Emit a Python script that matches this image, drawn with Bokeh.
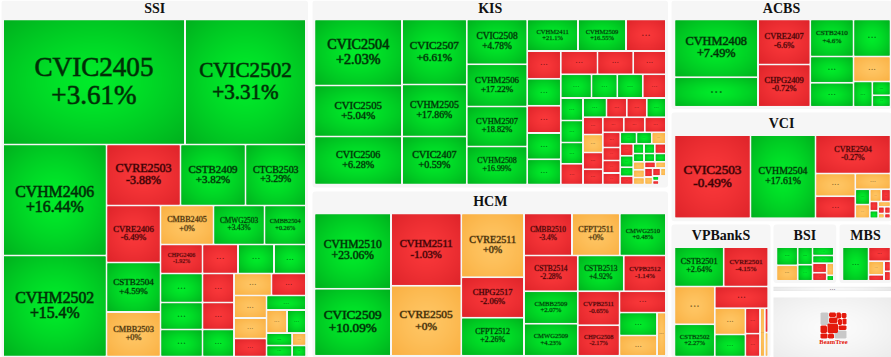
import numpy as np
from bokeh.core.properties import value
from bokeh.embed import file_html
from bokeh.models import ColumnDataSource, Range1d
from bokeh.plotting import figure
from bokeh.resources import INLINE

# ---------- data ----------
GROUPS = ["SSI", "KIS", "HCM", "ACBS", "VCI", "VPBankS", "BSI", "MBS"]

SSI_NAMES = ["CVIC2405", "CVIC2502", "CVHM2406", "CVHM2502", "CVRE2503", "CSTB2409", "CTCB2503",
             "CVRE2406", "CSTB2504", "CMBB2503", "CMBB2405", "CMWG2503", "CMBB2504", "CHPG2406"]
SSI_CHANGES = ["+3.61%", "+3.31%", "+16.44%", "+15.4%", "-3.88%", "+3.82%", "+3.29%",
               "-6.49%", "+4.59%", "+0%", "+0%", "+3.43%", "+0.26%", "-1.92%"]
SSI_TREND = "ggggrggrgooggr" + "rgg" + "ggg" + "rrg" + "or" + "oor" + "g" + "og" + "gg" + "og"
SSI_VALUES = [22750, 15125, 11489, 10454, 4514, 3965, 3690, 3078, 2673, 2403, 2067, 1989, 1618,
              1218, 1030, 1044, 928, 1218, 1134, 1134, 914, 851, 851, 825, 759, 731, 666, 585,
              573, 472, 437, 319, 281, 175, 154]

KIS_NAMES = ["CVIC2504", "CVIC2505", "CVIC2506", "CVIC2507", "CVHM2505", "CVIC2407", "CVIC2508",
             "CVHM2506", "CVHM2507", "CVHM2508", "CVHM2411", "CVHM2509"]
KIS_CHANGES = ["+2.03%", "+5.04%", "+6.28%", "+6.61%", "+17.86%", "+0.59%", "+4.78%",
               "+17.22%", "+18.82%", "+16.99%", "+21.1%", "+16.55%"]
KIS_TREND = "gggggggggggg" + "r" + "rgrgg" + "rrr" + "gggr" + "gggr" + "grrg" + "rorr" + "rrr" + \
            "rrrr" + "ggo" + "rggr" + "ggr" + "ggg" + "ooo" + "ro" + "ro" + "ro" + "gr"
KIS_VALUES = [5775, 4463, 4200, 4212, 3370, 3110, 2706, 2549, 2416, 2295, 1600, 1512, 1260,
              934, 907, 914, 884, 847, 855, 832, 764, 728, 611, 604, 550, 500, 488, 473, 460,
              451, 390, 384, 369, 343, 356, 333, 301, 317, 317, 320, 264, 226, 218, 200,
              187, 175, 164, 156, 148, 118, 107, 105, 105, 109, 90, 90, 93, 90, 87, 79,
              68, 65, 72, 60, 64, 44, 29, 26]

HCM_NAMES = ["CVHM2510", "CVIC2509", "CVHM2511", "CVRE2505", "CVRE2511", "CHPG2517", "CFPT2512",
             "CMBB2510", "CFPT2511", "CMWG2510", "CSTB2514", "CSTB2513", "CVPB2512", "CMBB2509",
             "CMWG2509", "CVPB2511", "CHPG2508"]
HCM_CHANGES = ["+23.06%", "+10.09%", "-1.03%", "+0%", "+0%", "-2.06%", "+2.26%", "-3.4%", "+0%",
               "+0.48%", "-2.28%", "+4.92%", "-1.14%", "+2.07%", "+4.23%", "-0.65%", "-2.17%"]
HCM_TREND = "ggro" + "org" + "rog" + "rgr" + "gg" + "rr" + "r" + "go" + "o"
HCM_VALUES = [5760, 5126, 5083, 4921, 3994, 2539, 2389, 2016, 2008, 1940, 1921, 1642, 1507,
              1749, 1727, 1418, 1276, 995, 859, 761, 389]

ACBS_NAMES = ["CVHM2408", "...", "CVRE2407", "CHPG2409", "CSTB2410"]
ACBS_CHANGES = ["+7.49%", "", "-6.6%", "-0.72%", "+4.6%"]
ACBS_TREND = "gg" + "rr" + "gg" + "gg" + "o" + "g" + "gg"
ACBS_VALUES = [4818, 2472, 2354, 2212, 1598, 1369, 1136, 1037, 925, 476, 251, 209]

VCI_NAMES = ["CVIC2503", "CVHM2504", "CVRE2504"]
VCI_CHANGES = ["-0.49%", "+17.61%", "-0.27%"]
VCI_TREND = "r" + "g" + "r" + "or" + "o" + "go" + "or" + "rg" + "o" + "ro" + "rr"
VCI_VALUES = [6323, 5408, 2888, 903, 876, 553, 223, 197, 141, 113, 77, 63, 65, 42, 30, 40, 28]

VPB_NAMES = ["CSTB2501", "CVRE2501", "...", "CSTB2502"]
VPB_CHANGES = ["+2.64%", "-4.15%", "", "+2.27%"]
VPB_TREND = "gr" + "og" + "r" + "og" + "rr" + "o" + "ro"
VPB_VALUES = [1943, 1758, 1523, 1298, 1159, 805, 673, 372, 335, 232, 82, 81]

BSI_TREND = "go" + "gg" + "g" + "g" + "rr" + "og"
BSI_VALUES = [388, 329, 262, 238, 181, 164, 135, 115, 88, 40]

MBS_TREND = "g" + "r" + "or" + "rr"
MBS_VALUES = [879, 312, 211, 93, 66, 62]

# ---------- layout of each tree map (not data) ----------
STRIPS = {
    "SSI": ["h2", "v2", "h3", "v3", "h3", "h4", "v3", "v3", "h2", "v3", "h1", "h2", "v2", "v2"],
    "KIS": ["v3", "v3", "v4", "h3", "v5", "h3", "h4", "v4", "h4", "v4", "h3", "v4", "h3", "v4",
            "h3", "h3", "v3", "h2", "v2", "h2", "v2"],
    "HCM": ["v2", "v2", "v3", "h3", "h3", "v2", "v2", "h1", "v2", "v1"],
    "ACBS": ["v2", "v2", "h2", "v2", "h1", "v1", "v2"],
    "VCI": ["v1", "v1", "h1", "v2", "h1", "v2", "h2", "v2", "h1", "v2", "v2"],
    "VPBankS": ["h2", "v2", "h1", "v2", "v2", "v1", "v2"],
    "BSI": ["v2", "v2", "h1", "h1", "v2", "v2"],
    "MBS": ["v1", "h1", "v2", "v2"],
}
AREAS = {"SSI": (2.5, 19, 305.5, 356), "KIS": (314, 19, 665.5, 184), "HCM": (314, 213, 665.5, 355.3),
         "ACBS": (674, 19, 890, 106.3), "VCI": (674, 134.5, 890, 217.7),
         "VPBankS": (674, 246.5, 767.7, 356), "BSI": (776, 246.5, 833.3, 280.3),
         "MBS": (842, 246.5, 890, 280.3)}
PANELS = {"SSI": (1, 0, 307.5, 357), "KIS": (312, 0, 667.5, 187), "HCM": (312, 191, 667.5, 357),
          "ACBS": (671, 0, 891, 108.5), "VCI": (671, 112, 891, 220.7),
          "VPBankS": (671, 224, 770, 357), "BSI": (773, 224, 835.7, 282.5),
          "MBS": (839, 224, 891, 282.5)}
TITLE_Y = {"SSI": 8, "KIS": 8, "HCM": 201, "ACBS": 8, "VCI": 123, "VPBankS": 235, "BSI": 235, "MBS": 235}
DATA = {
    "SSI": (SSI_NAMES, SSI_CHANGES, SSI_TREND, SSI_VALUES),
    "KIS": (KIS_NAMES, KIS_CHANGES, KIS_TREND, KIS_VALUES),
    "HCM": (HCM_NAMES, HCM_CHANGES, HCM_TREND, HCM_VALUES),
    "ACBS": (ACBS_NAMES, ACBS_CHANGES, ACBS_TREND, ACBS_VALUES),
    "VCI": (VCI_NAMES, VCI_CHANGES, VCI_TREND, VCI_VALUES),
    "VPBankS": (VPB_NAMES, VPB_CHANGES, VPB_TREND, VPB_VALUES),
    "BSI": ([], [], BSI_TREND, BSI_VALUES),
    "MBS": ([], [], MBS_TREND, MBS_VALUES),
}
EDGE = {"g": (0, 176, 30), "r": (222, 36, 42), "o": (250, 176, 66)}
CENTER = {"g": (0, 236, 42), "r": (250, 56, 58), "o": (255, 198, 100)}
INK = {"g": "#012e06", "r": "#3a0204", "o": "#3d2a06"}
CHAR_EM = {"C": .667, "V": .722, "H": .722, "M": .889, "R": .667, "E": .611, "S": .556, "T": .611,
           "B": .667, "P": .556, "F": .556, "G": .722, "W": .944, "I": .333}
FONT = value("Liberation Serif")


def gradient(w, h, inner, outer):
    nx, ny = max(int(round(w)), 1), max(int(round(h)), 1)
    u = (np.arange(nx) + .5) / nx * 2 - 1
    v = (np.arange(ny) + .5) / ny * 2 - 1
    d = np.clip(np.hypot(*np.meshgrid(u, v)) / np.sqrt(2), 0, 1)[..., None] ** 1.4
    rgb = np.array(inner) * (1 - d) + np.array(outer) * d
    out = np.full((ny, nx, 4), 255, dtype=np.uint8)
    out[..., :3] = rgb.astype(np.uint8)
    return out.view(np.uint32).reshape(ny, nx)


def squarified(values, strips, area):
    x0, y0, x1, y1 = area
    rects, k = [], 0
    for strip in strips:
        n = int(strip[1:])
        part = values[k:k + n]
        total = sum(part)
        if strip[0] == "h":
            thick, pos = total / (x1 - x0), x0
            for val in part:
                size = val / total * (x1 - x0)
                rects.append((pos, y0, pos + size, y0 + thick))
                pos += size
            y0 += thick
        else:
            thick, pos = total / (y1 - y0), y0
            for val in part:
                size = val / total * (y1 - y0)
                rects.append((x0, pos, x0 + thick, pos + size))
                pos += size
            x0 += thick
        k += n
    return rects


def halo(ink, fs):
    alpha = min(max(.05 * fs - .1, .15), .6)
    return ink + "%02x" % int(alpha * 255)


p = figure(width=891, height=357, output_backend="svg", toolbar_location=None,
           x_range=Range1d(0, 891), y_range=Range1d(357, 0),
           x_axis_type=None, y_axis_type=None, min_border=0,
           outline_line_color=None, background_fill_color="white", border_fill_color="white")
p.grid.visible = False

# cards
p.quad(left=[PANELS[g][0] for g in GROUPS], right=[PANELS[g][2] for g in GROUPS],
       top=[PANELS[g][1] for g in GROUPS], bottom=[PANELS[g][3] for g in GROUPS],
       fill_color="#f6f6f6", line_color=None, border_radius=3)

quads = dict(left=[], right=[], top=[], bottom=[], fill=[])
imgs = dict(image=[], x=[], y=[], dw=[], dh=[])
lab1 = dict(x=[], y=[], text=[], size=[], ink=[], halo=[])
lab2 = dict(x=[], y=[], text=[], size=[], ink=[], halo=[])
dots = dict(x=[], y=[], text=[], size=[], ink=[])

for g in GROUPS:
    names, changes, trend, vals = DATA[g]
    for i, (l, t, r, b) in enumerate(squarified(vals, STRIPS[g], AREAS[g])):
        l, t, r, b = l + 1, t + 1, r - 1, b - 1
        w, h = r - l, b - t
        c = trend[i]
        quads["left"].append(l); quads["right"].append(r); quads["top"].append(t); quads["bottom"].append(b)
        quads["fill"].append("#%02x%02x%02x" % EDGE[c])
        imgs["image"].append(gradient(w, h, CENTER[c], EDGE[c]))
        imgs["x"].append((l + r) / 2); imgs["y"].append((t + b) / 2)
        imgs["dw"].append(w); imgs["dh"].append(h)
        name = names[i] if i < len(names) else "..."
        cx, cy = (l + r) / 2, (t + b) / 2
        if name == "...":
            fs = 0.37 * (w * h) ** .5
            dots["x"].append(cx); dots["y"].append(cy - .28 * fs)
            dots["text"].append("..."); dots["size"].append(f"{fs:.1f}px"); dots["ink"].append(INK[c])
        else:
            em = sum(CHAR_EM.get(ch, .5) for ch in name)
            fs = min(.78 * w / em, .22 * h)
            for src, yy, tx in ((lab1, cy - .5 * fs - 1, name), (lab2, cy + .5 * fs - 1, changes[i])):
                src["x"].append(cx); src["y"].append(yy); src["text"].append(tx)
                src["size"].append(f"{fs:.1f}px"); src["ink"].append(INK[c]); src["halo"].append(halo(INK[c], fs))

p.quad(left="left", right="right", top="top", bottom="bottom", fill_color="fill", line_color=None,
       source=ColumnDataSource(quads))
p.image_rgba(image="image", x="x", y="y", dw="dw", dh="dh", anchor="center", source=ColumnDataSource(imgs))

for src in (lab1, lab2):
    p.text(x="x", y="y", text="text", text_font=FONT, text_font_size="size", text_color="ink",
           text_outline_color="halo", text_align="center", text_baseline="middle",
           source=ColumnDataSource(src))
p.text(x="x", y="y", text="text", text_font=FONT, text_font_size="size", text_color="ink", text_alpha=.6,
       text_align="center", text_baseline="middle", source=ColumnDataSource(dots))

p.text(x=[(PANELS[g][0] + PANELS[g][2]) / 2 for g in GROUPS], y=[TITLE_Y[g] for g in GROUPS], text=GROUPS,
       text_font=FONT, text_font_size="14px", text_font_style="bold", text_color="#111111",
       text_align="center", text_baseline="middle")

# splitter and logo card
p.image_rgba(image=[gradient(118, 4, (250, 250, 250), (226, 226, 226))], x=[832], y=[288.4], dw=[118], dh=[4.2], anchor="center")
p.text(x=[832], y=[286.5], text=["..."], text_font=FONT, text_font_size="8px", text_color="#666666",
       text_align="center", text_baseline="middle")
p.image_rgba(image=[gradient(118, 60, (252, 252, 252), (236, 236, 236))], x=[832], y=[327], dw=[118], dh=[60], anchor="center")
p.quad(left=[820], right=[846], top=[312], bottom=[338], fill_color="white", line_color=None)


def blob(x0, y0, x1, y1, c=1.0):
    return ([820 + x0 + c, 820 + x1 - c, 820 + x1, 820 + x1, 820 + x1 - c, 820 + x0 + c, 820 + x0, 820 + x0],
            [312 + y0, 312 + y0, 312 + y0 + c, 312 + y1 - c, 312 + y1, 312 + y1, 312 + y1 - c, 312 + y0 + c])


LOGO_RED = [(8.5, 0, 15.5, 4.5), (16, 0, 20.5, 6), (21, 0.5, 26, 5.5), (8.5, 5, 17, 10.5), (17.5, 6.5, 21.5, 12.5),
            (22, 6, 26, 12), (0, 13, 6.5, 20.5), (7, 11, 17.5, 20.5), (18, 13, 26, 17.5), (0, 21, 7, 26), (7.5, 21, 13.5, 26)]
LOGO_GREY = [(0, 0, 8, 12.5), (14, 18, 26, 26)]
for boxes, col in ((LOGO_GREY, "#c8c8c8"), (LOGO_RED, "#e41a0c")):
    pts = [blob(*b) for b in boxes]
    p.patches(xs=[q[0] for q in pts], ys=[q[1] for q in pts], fill_color=col, line_color=None)
p.text(x=[833], y=[341], text=["BeamTree"], text_font=FONT, text_font_size="6.5px", text_font_style="bold",
       text_color="#e41a0c", text_align="center", text_baseline="middle")

open("out.html", "w").write(file_html(p, INLINE))
